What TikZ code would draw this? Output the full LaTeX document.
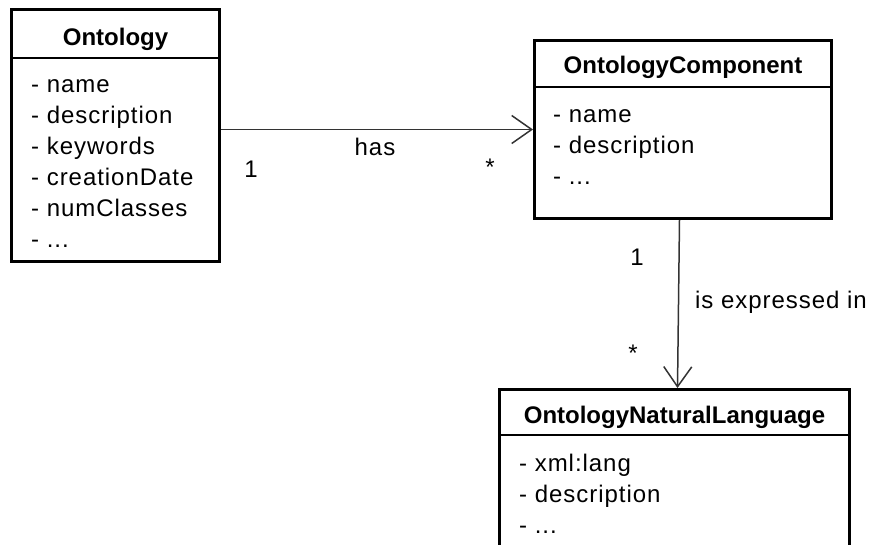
\documentclass[tikz,border=0pt]{standalone}
\usepackage{fontspec}
\setmainfont{Liberation Sans}
\newfontfamily\attrfont[LetterSpace=4]{Liberation Sans}
\usetikzlibrary{arrows.meta}

\tikzset{
  classbox/.style={draw=black, line width=3pt, fill=white, inner sep=0pt, anchor=north west},
  sepline/.style={draw=black, line width=1.3pt},
  ctitle/.style={font=\fontsize{24pt}{28pt}\selectfont\bfseries, inner sep=0pt, anchor=base},
  attr/.style={font=\attrfont\fontsize{24pt}{28pt}\selectfont, inner sep=0pt, anchor=base west},
  lbl/.style={font=\attrfont\fontsize{24pt}{28pt}\selectfont, inner sep=0pt, anchor=base},
  assoc/.style={draw=black!80, line width=1.5pt,
    -{Straight Barb[length=20pt, width=28pt, line width=1.5pt]}},
}

\begin{document}
\begin{tikzpicture}[x=1pt, y=-1pt]
  \useasboundingbox (0,0) rectangle (870,544);
  \clip (0,0) rectangle (870,544);

  % class Ontology
  \node[classbox, minimum width=208pt, minimum height=252pt] (onto) at (10,8) {};
  \draw[sepline] (onto.west |- 0,58) -- (onto.east |- 0,58);
  \node[ctitle] (onto-t) at (onto.north |- 0,45) {Ontology};
  \node[attr] (onto-a1) at (31,92)  {- name};
  \node[attr] (onto-a2) at (31,123) {- description};
  \node[attr] (onto-a3) at (31,154) {- keywords};
  \node[attr] (onto-a4) at (31,185) {- creationDate};
  \node[attr] (onto-a5) at (31,216) {- numClasses};
  \node[attr] (onto-a6) at (31,247) {- ...};

  % class OntologyComponent
  \node[classbox, minimum width=297pt, minimum height=178pt] (comp) at (533,39) {};
  \draw[sepline] (comp.west |- 0,87) -- (comp.east |- 0,87);
  \node[ctitle] (comp-t) at (comp.north |- 0,73) {OntologyComponent};
  \node[attr] (comp-a1) at (553,122) {- name};
  \node[attr] (comp-a2) at (553,153) {- description};
  \node[attr] (comp-a3) at (553,184) {- ...};

  % class OntologyNaturalLanguage
  \node[classbox, minimum width=350pt, minimum height=182pt] (nl) at (498,388) {};
  \draw[sepline] (nl.west |- 0,435) -- (nl.east |- 0,435);
  \node[ctitle] (nl-t) at (nl.north |- 0,423) {OntologyNaturalLanguage};
  \node[attr] (nl-a1) at (519,471) {- xml:lang};
  \node[attr] (nl-a2) at (519,502) {- description};
  \node[attr] (nl-a3) at (519,533) {- ...};

  % associations
  \draw[assoc] (onto.east |- comp.west) -- (comp.west);
  \node[lbl] (has) at (375,155) {has};
  \node[lbl] (has-m1) at (251,177) {1};
  \node[lbl] (has-m2) at (490,175) {*};

  \draw[assoc] ([xshift=-3.5pt]comp.south) -- ([xshift=3pt]nl.north);
  \node[lbl] (expr-m1) at (637,265) {1};
  \node[lbl, anchor=base west] (expr) at (695,308) {is expressed in};
  \node[lbl] (expr-m2) at (633,361) {*};
\end{tikzpicture}
\end{document}
